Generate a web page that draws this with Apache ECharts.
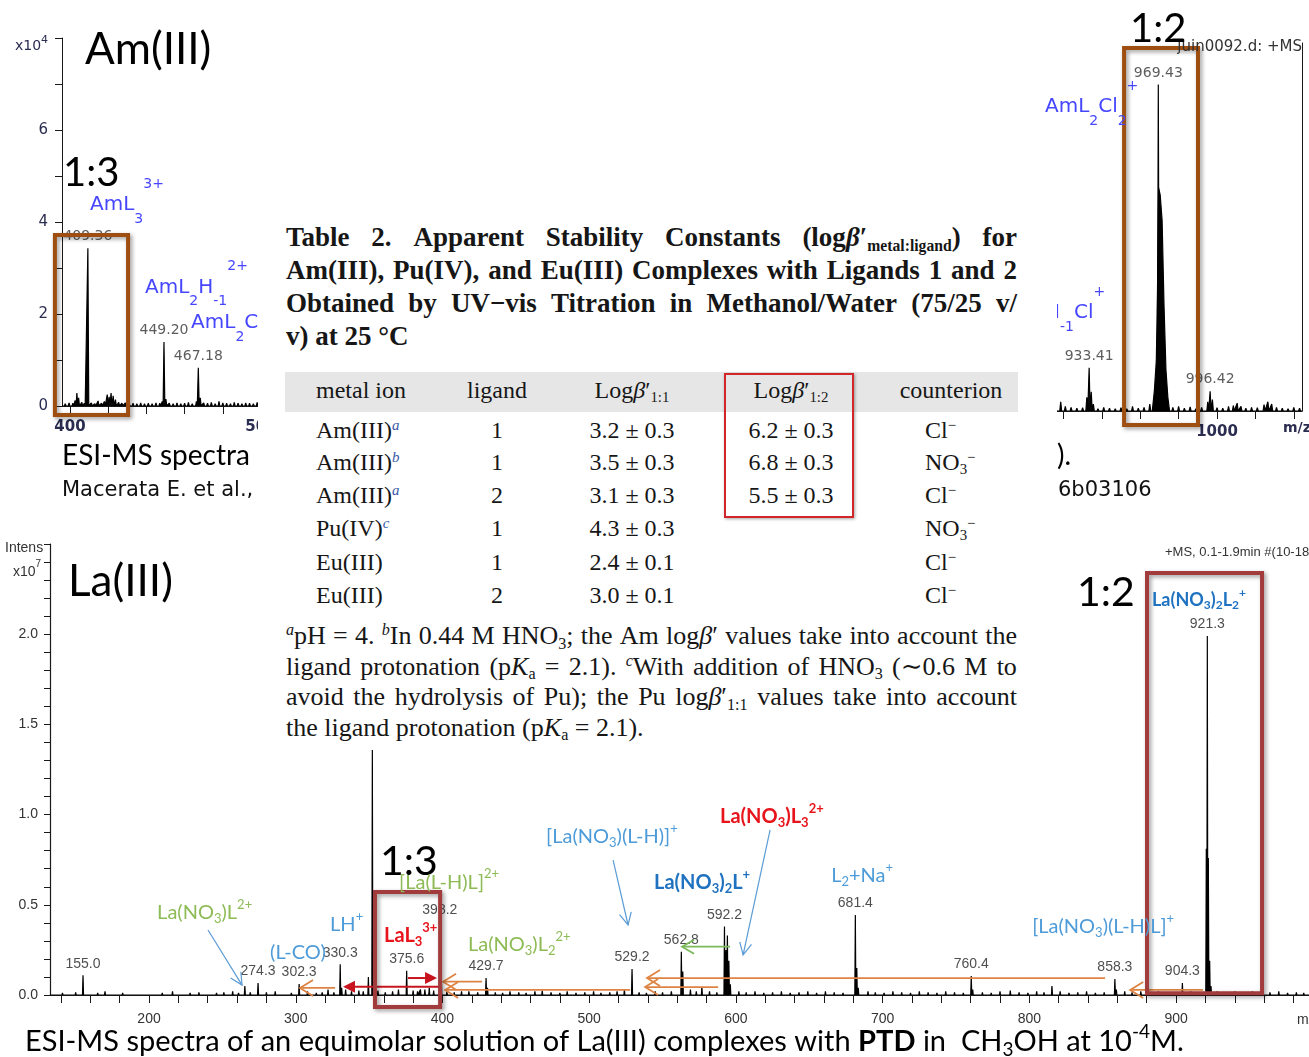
<!DOCTYPE html>
<html>
<head>
<meta charset="utf-8">
<script src="https://cdn.jsdelivr.net/npm/echarts@6/dist/echarts.min.js"></script>
<style>
html, body { margin: 0; padding: 0; background: #fff; }
#chart { position: absolute; left: 0; top: 0; width: 1309px; height: 1057px; }
#tbl { position: absolute; left: 258px; top: 205px; width: 799px; height: 543px; background: #fff; z-index: 2;
       font-family: 'Liberation Serif', 'DejaVu Serif', serif; color: #161616; }
#tbl .ttl { position: absolute; left: 28px; top: 16px; width: 731px; font-size: 27px; line-height: 33px; font-weight: bold; }
#tbl .ttl sub { font-weight: bold; font-size: 0.58em; }
#tbl .fl { display: flex; justify-content: space-between; white-space: nowrap; }
#tbl .band { position: absolute; left: 27px; top: 167px; width: 733px; height: 40px; background: #e6e6e6; }
#tbl .redbox { position: absolute; left: 466px; top: 168px; width: 126px; height: 141px; border: 2px solid #d0262c;
               box-shadow: 1px 1px 3px rgba(0,0,0,0.35); }
#tbl .c { position: absolute; font-size: 24px; line-height: 32px; white-space: nowrap; }
#tbl .foot { position: absolute; left: 28px; top: 416px; width: 731px; font-size: 26px; line-height: 30.5px; }
#tbl sub, #tbl sup { font-size: 0.62em; line-height: 0; position: relative; vertical-align: baseline; }
#tbl sup { top: -0.55em; }
#tbl sub { top: 0.3em; }
#tbl .n { color: #3a58a8; }
</style>
</head>
<body>
<div id="chart"></div>
<div id="tbl">
  <div class="ttl">
    <div class="fl">Table 2. Apparent Stability Constants (log<i>β</i>′<sub>metal:ligand</sub>) for</div>
    <div class="fl">Am(III), Pu(IV), and Eu(III) Complexes with Ligands 1 and 2</div>
    <div class="fl">Obtained by UV−vis Titration in Methanol/Water (75/25 v/</div>
    <div>v) at 25 °C</div>
  </div>
  <div class="band"></div>
  <div class="foot">
    <div class="fl"><sup><i>a</i></sup>pH = 4. <sup><i>b</i></sup>In 0.44 M HNO<sub>3</sub>; the Am log<i>β</i>′ values take into account the</div>
    <div class="fl">ligand protonation (p<i>K</i><sub>a</sub> = 2.1). <sup><i>c</i></sup>With addition of HNO<sub>3</sub> (∼0.6 M to</div>
    <div class="fl">avoid the hydrolysis of Pu); the Pu log<i>β</i>′<sub>1:1</sub> values take into account</div>
    <div>the ligand protonation (p<i>K</i><sub>a</sub> = 2.1).</div>
  </div>
  <div class="redbox"></div>
</div>
<script>
// ---------- Am(III) spectrum, low-mass window (m/z, intensity x10^4) ----------
const amLowLabeled = [[409.36, 3.43], [449.20, 1.39], [467.18, 0.83]];
const amLowMinor = [
  [397.5, 0.05], [399.5, 0.07], [401.5, 0.06], [402.7, 0.12], [403.6, 0.28], [404.5, 0.18], [406.2, 0.08],
  [407.5, 0.06], [411.2, 0.07], [413.0, 0.05], [414.7, 0.11], [416.5, 0.06], [418.0, 0.1], [419.5, 0.25],
  [420.5, 0.2], [421.5, 0.28], [422.6, 0.22], [423.8, 0.14], [425.5, 0.08], [427.2, 0.06], [429.0, 0.07],
  [431.0, 0.05], [433.0, 0.06], [435.0, 0.05], [437.0, 0.07], [439.0, 0.05], [441.0, 0.06], [443.0, 0.05],
  [445.0, 0.07], [447.0, 0.06], [448.3, 0.1], [450.2, 0.15], [452.0, 0.06], [454.0, 0.05], [456.0, 0.07],
  [458.0, 0.05], [460.0, 0.06], [462.0, 0.08], [464.0, 0.05], [466.2, 0.1], [468.2, 0.18], [470.0, 0.07],
  [472.0, 0.06], [474.0, 0.08], [476.0, 0.05], [478.0, 0.1], [480.0, 0.07], [482.0, 0.06], [484.0, 0.05],
  [486.0, 0.08], [488.0, 0.06], [490.0, 0.05], [492.0, 0.07], [494.0, 0.06], [496.0, 0.05], [498.0, 0.08],
  [500.0, 0.06], [502.0, 0.05], [504.0, 0.07], [506.0, 0.06], [508.0, 0.05], [510.0, 0.07], [512.0, 0.05],
  [514.0, 0.06], [516.0, 0.05], [518.0, 0.06]
];

// ---------- Am(III) spectrum, high-mass window ----------
const amHighLabeled = [[933.41, 0.94], [969.43, 7.1], [996.42, 0.43]];
const amHighMinor = [
  [889, 0.06], [892, 0.1], [895, 0.15], [898, 0.08], [901, 0.12], [904, 0.06], [907, 0.1], [910, 0.07],
  [913, 0.09], [916, 0.12], [918.6, 0.2], [921, 0.1], [924, 0.08], [927, 0.06], [930, 0.07], [932.2, 0.3],
  [934.5, 0.42], [935.6, 0.15], [938, 0.05], [941, 0.08], [944, 0.06], [947, 0.05], [950, 0.07], [953, 0.05],
  [956, 0.1], [959, 0.06], [962, 0.08], [965, 0.15], [977, 0.08], [980, 0.1], [983, 0.06], [986, 0.09],
  [989, 0.05], [992, 0.08], [995.2, 0.2], [997.6, 0.25], [1000, 0.07], [1003, 0.06], [1006, 0.1],
  [1008.5, 0.12], [1010.5, 0.17], [1012.5, 0.1], [1015, 0.06], [1018, 0.08], [1021, 0.07], [1024.5, 0.14],
  [1026.5, 0.2], [1028.5, 0.15], [1031, 0.08], [1034, 0.06], [1037, 0.05], [1040, 0.08], [1043, 0.06]
];
// isotope envelope under the AmL2Cl2+ line
const amHighEnvelope = [
  [966.3, 0], [967.4, 0.45], [968.4, 1.1], [969.0, 2.6], [969.6, 4.85], [970.4, 4.7], [971.4, 4.15],
  [972.4, 2.3], [973.4, 0.9], [974.4, 0.3], [975.3, 0]
];

// ---------- La(III) spectrum (m/z, intensity x10^7) ----------
const laLabeled = [
  [155.0, 0.11], [274.3, 0.067], [302.3, 0.061], [330.3, 0.17], [375.6, 0.135], [398.2, 0.406],
  [429.7, 0.094], [529.2, 0.144], [562.8, 0.24], [592.2, 0.379], [681.4, 0.443], [760.4, 0.105],
  [858.3, 0.089], [904.3, 0.067], [921.3, 1.99]
];
const laMinor = [
  [265.3, 0.05], [331.3, 0.04], [349.5, 0.1], [352.2, 1.358], [385.0, 0.03], [399.2, 0.1], [430.7, 0.04],
  [563.8, 0.13], [576.8, 0.045], [593.2, 0.25], [594.2, 0.33], [595.2, 0.19], [596.2, 0.06], [682.4, 0.15],
  [683.4, 0.04], [761.4, 0.03], [787.0, 0.025], [815.4, 0.05], [859.3, 0.03], [920.6, 0.81], [922.0, 0.76],
  [922.9, 0.19], [923.8, 0.05]
];
const laNoise = [
  [141, 0.012], [146, 0.008], [150, 0.015], [160, 0.01], [165, 0.012], [170, 0.02], [176, 0.01], [182, 0.012],
  [188, 0.01], [194, 0.008], [203, 0.01], [209, 0.012], [216, 0.02], [222, 0.01], [228, 0.012], [234, 0.015],
  [240, 0.01], [246, 0.012], [251, 0.015], [257, 0.02], [261, 0.012], [269, 0.015], [280, 0.015], [286, 0.02],
  [292, 0.01], [297, 0.012], [308, 0.02], [314, 0.012], [318, 0.015], [322, 0.03], [326, 0.015], [334, 0.03],
  [338, 0.02], [343, 0.025], [346, 0.02], [356, 0.025], [361, 0.015], [366, 0.02], [370, 0.03], [380, 0.025],
  [383, 0.02], [388, 0.03], [391, 0.04], [394, 0.025], [403, 0.02], [408, 0.015], [413, 0.02], [418, 0.02],
  [424, 0.015], [436, 0.015], [441, 0.012], [446, 0.02], [452, 0.015], [457, 0.012], [463, 0.02], [468, 0.025],
  [474, 0.015], [480, 0.012], [485, 0.02], [491, 0.012], [497, 0.015], [503, 0.02], [508, 0.012], [514, 0.015],
  [519, 0.02], [524, 0.03], [534, 0.015], [539, 0.012], [545, 0.02], [550, 0.015], [556, 0.02], [569, 0.03],
  [573, 0.02], [582, 0.02], [587, 0.015], [602, 0.02], [607, 0.015], [613, 0.02], [619, 0.012], [625, 0.015],
  [631, 0.02], [637, 0.012], [643, 0.015], [649, 0.02], [655, 0.012], [661, 0.02], [667, 0.015], [673, 0.012],
  [690, 0.02], [695, 0.015], [701, 0.012], [707, 0.02], [713, 0.015], [719, 0.012], [725, 0.02], [731, 0.015],
  [737, 0.012], [743, 0.02], [749, 0.015], [755, 0.012], [768, 0.015], [774, 0.012], [780, 0.02], [793, 0.015],
  [799, 0.012], [805, 0.02], [810, 0.015], [821, 0.02], [827, 0.012], [833, 0.015], [839, 0.02], [845, 0.012],
  [851, 0.015], [865, 0.02], [870, 0.015], [876, 0.02], [882, 0.015], [888, 0.02], [894, 0.015], [899, 0.012],
  [910, 0.02], [915, 0.015], [928, 0.02], [934, 0.015], [940, 0.02], [946, 0.015], [952, 0.02], [958, 0.012],
  [964, 0.015], [970, 0.02], [976, 0.012], [982, 0.015], [987, 0.012]
];

// ---------- axis ranges and ticks ----------
const amLowRange = [395.81, 520.42];
const amHighRange = [886.98, 1044.27];
const laRange = [132.5, 990.6];
const amLowXTicks = [400, 420, 440, 460, 480, 500, 520];
const amLowXLabels = [400, 500];
const amYTicks = [0, 1, 2, 3, 4, 5, 6, 7, 8];
const amYLabels = [0, 2, 4, 6];
const amHighXTicks = [900, 920, 940, 960, 980, 1000, 1020, 1040];
const amHighXLabels = [1000];
const laXLabels = [200, 300, 400, 500, 600, 700, 800, 900];
const laYLabels = [0, 0.5, 1.0, 1.5, 2.0];

// ---------- table ----------
const metalIons = ['Am(III)', 'Am(III)', 'Am(III)', 'Pu(IV)', 'Eu(III)', 'Eu(III)'];
const ionNotes = ['a', 'b', 'a', 'c', '', ''];
const ligands = ['1', '1', '2', '1', '1', '2'];
const logBeta11 = ['3.2 ± 0.3', '3.5 ± 0.3', '3.1 ± 0.3', '4.3 ± 0.3', '2.4 ± 0.1', '3.0 ± 0.1'];
const logBeta12 = ['6.2 ± 0.3', '6.8 ± 0.3', '5.5 ± 0.3', '', '', ''];
const counterions = ['Cl', 'NO3', 'Cl', 'NO3', 'Cl', 'Cl'];

// ---------- fonts ----------
const CAL = "Lato, 'Open Sans', sans-serif";
const NARROW = "'Liberation Sans Narrow', 'Arial Narrow', 'Liberation Sans', sans-serif";
const VERD = "'DejaVu Sans', Verdana, sans-serif";

// ---------- table layout ----------
(function buildTable() {
  const tbl = document.getElementById('tbl');
  const OX = 258, OY = 205;
  // spread the words of justified lines
  tbl.querySelectorAll('.fl').forEach(el => {
    el.innerHTML = el.innerHTML.trim().split(/\s+/).map(w => '<span>' + w + '</span>').join('');
  });
  function put(html, x, cy, center) {
    const d = document.createElement('div');
    d.className = 'c';
    d.innerHTML = html;
    d.style.top = (cy - OY - 16) + 'px';
    if (center) { d.style.left = (x - OX - 80) + 'px'; d.style.width = '160px'; d.style.textAlign = 'center'; }
    else d.style.left = (x - OX) + 'px';
    tbl.insertBefore(d, tbl.querySelector('.redbox'));
  }
  const hy = 390;
  put('metal ion', 316, hy, false);
  put('ligand', 497, hy, true);
  put('Log<i>β</i>′<sub>1:1</sub>', 632, hy, true);
  put('Log<i>β</i>′<sub>1:2</sub>', 791, hy, true);
  put('counterion', 951, hy, true);
  const rowY = [430, 462, 495, 528, 562, 595];
  const ionHtml = { Cl: 'Cl<sup>−</sup>', NO3: 'NO<sub>3</sub><sup>−</sup>' };
  metalIons.forEach((m, i) => {
    const y = rowY[i];
    put(m + (ionNotes[i] ? '<sup class="n"><i>' + ionNotes[i] + '</i></sup>' : ''), 316, y, false);
    put(ligands[i], 497, y, true);
    put(logBeta11[i], 632, y, true);
    if (logBeta12[i]) put(logBeta12[i], 791, y, true);
    put(ionHtml[counterions[i]], 925, y, false);
  });
})();

// ---------- chart ----------
function sticks(list, hw) {
  const pts = list.slice().sort((a, b) => a[0] - b[0]);
  const out = [];
  pts.forEach(([m, h]) => { out.push([m - hw, 0], [m, h], [m + hw, 0]); });
  return out;
}
function withBase(range, pts) {
  return [[range[0], 0]].concat(pts, [[range[1], 0]]);
}
function fill(a, b, s) { const r = []; for (let i = a; i <= b + 1e-9; i += s) r.push(+i.toFixed(2)); return r; }

const axisCol = '#1a1a1a';
const spectrumLine = { type: 'line', symbol: 'none', silent: true, z: 3,
  lineStyle: { color: '#000', width: 1.2 }, areaStyle: { color: '#000', opacity: 1 } };
const valueLabel = (digits, font, size, col) => ({
  type: 'scatter', symbolSize: 1, silent: true, z: 4, itemStyle: { color: 'rgba(0,0,0,0)' },
  label: { show: true, position: 'top', distance: 4, fontFamily: font, fontSize: size, color: col,
           formatter: p => p.value[0].toFixed(digits) }
});

const option = {
  animation: false,
  backgroundColor: '#ffffff',
  grid: [
    { left: 62, top: 38, width: 238, height: 368, outerBoundsMode: 'none' },
    { left: 1000, top: 43, width: 302, height: 368, outerBoundsMode: 'none' },
    { left: 50, top: 544, width: 1259, height: 451, outerBoundsMode: 'none' }
  ],
  xAxis: [
    { gridIndex: 0, type: 'value', min: amLowRange[0], max: amLowRange[1],
      axisLine: { show: true, onZero: false, lineStyle: { color: axisCol, width: 1 } },
      axisTick: { show: true, customValues: amLowXTicks, length: 8, lineStyle: { color: axisCol } },
      axisLabel: { show: true, customValues: amLowXLabels, margin: 14, fontFamily: VERD, fontSize: 15, fontWeight: 'bold', color: '#2a2c50',
                   formatter: v => String(v) },
      splitLine: { show: false } },
    { gridIndex: 1, type: 'value', min: amHighRange[0], max: amHighRange[1],
      axisLine: { show: true, onZero: false, lineStyle: { color: axisCol, width: 1 } },
      axisTick: { show: true, customValues: amHighXTicks, length: 8, lineStyle: { color: axisCol } },
      axisLabel: { show: true, customValues: amHighXLabels, margin: 14, fontFamily: VERD, fontSize: 15, fontWeight: 'bold', color: '#2a2c50',
                   formatter: v => String(v) },
      splitLine: { show: false } },
    { gridIndex: 2, type: 'value', min: laRange[0], max: laRange[1],
      axisLine: { show: true, onZero: false, lineStyle: { color: axisCol, width: 1.2 } },
      axisTick: { show: true, customValues: fill(140, 980, 20), length: 8, lineStyle: { color: axisCol } },
      axisLabel: { show: true, customValues: laXLabels, margin: 17, fontFamily: NARROW, fontSize: 14, color: '#333',
                   formatter: v => String(v) },
      splitLine: { show: false } }
  ],
  yAxis: [
    { gridIndex: 0, type: 'value', min: 0, max: 8,
      axisLine: { show: true, onZero: false, lineStyle: { color: axisCol, width: 1 } },
      axisTick: { show: true, customValues: amYTicks, length: 7, lineStyle: { color: axisCol } },
      axisLabel: { show: true, customValues: amYLabels, margin: 14, fontFamily: VERD, fontSize: 15, color: '#2a2c50' },
      splitLine: { show: false } },
    { gridIndex: 1, type: 'value', min: 0, max: 8, position: 'right',
      axisLine: { show: true, onZero: false, lineStyle: { color: axisCol, width: 1 } },
      axisTick: { show: false }, axisLabel: { show: false }, splitLine: { show: false } },
    { gridIndex: 2, type: 'value', min: 0, max: 2.5,
      axisLine: { show: true, onZero: false, lineStyle: { color: axisCol, width: 1.2 } },
      axisTick: { show: true, customValues: fill(0, 2.5, 0.1), length: 6, lineStyle: { color: axisCol } },
      axisLabel: { show: true, customValues: laYLabels, margin: 12, fontFamily: NARROW, fontSize: 14, color: '#333',
                   formatter: v => v.toFixed(1) },
      splitLine: { show: false } }
  ],
  series: [
    Object.assign({}, spectrumLine, { name: 'Am low', xAxisIndex: 0, yAxisIndex: 0,
      data: withBase(amLowRange, sticks(amLowLabeled.concat(amLowMinor), 0.45)) }),
    Object.assign(valueLabel(2, VERD, 14, '#333'), { xAxisIndex: 0, yAxisIndex: 0, data: amLowLabeled }),
    Object.assign({}, spectrumLine, { name: 'Am high', xAxisIndex: 1, yAxisIndex: 1,
      data: withBase(amHighRange, sticks(amHighLabeled.concat(amHighMinor), 0.5)) }),
    Object.assign({}, spectrumLine, { name: 'Am envelope', xAxisIndex: 1, yAxisIndex: 1, data: amHighEnvelope }),
    Object.assign(valueLabel(2, VERD, 14, '#333'), { xAxisIndex: 1, yAxisIndex: 1, data: amHighLabeled }),
    Object.assign({}, spectrumLine, { name: 'La', xAxisIndex: 2, yAxisIndex: 2,
      data: withBase(laRange, sticks(laLabeled.concat(laMinor, laNoise), 0.35)) }),
    Object.assign(valueLabel(1, NARROW, 14, '#222'), { xAxisIndex: 2, yAxisIndex: 2, data: laLabeled })
  ]
};

const chart = echarts.init(document.getElementById('chart'), null, { renderer: 'canvas', width: 1309, height: 1057 });
chart.setOption(option);

// ---------- annotations (in data coordinates of each panel) ----------
const amLowSpecies = [
  { text: 'AmL{_3}{^3+}', at: [410.5, 4.37] },
  { text: 'AmL{_2}H{_-1}{^2+}', at: [439.3, 2.57] },
  { text: 'AmL{_2}Cl{^2+}', at: [463.4, 1.80] }
];
const amHighSpecies = [
  { text: 'AmL{_2}Cl{_2}{^+}', at: [910.4, 6.61] },
  { text: 'H{_-1}Cl{^+}', at: [910.4, 2.13] }
];
const laSpecies = [
  { text: 'La(NO{_3})L{^2+}', at: [205.5, 0.455], kind: 'green' },
  { text: '(L-CO)', at: [282.5, 0.238], kind: 'blue' },
  { text: 'LH{^+}', at: [323.4, 0.388], kind: 'blue' },
  { text: '[La(L-H)L]{^2+}', at: [370.4, 0.626], kind: 'green' },
  { text: 'LaL{_3}{^3+}', at: [360.2, 0.327], kind: 'red' },
  { text: 'La(NO{_3})L{_2}{^2+}', at: [417.4, 0.277], kind: 'green' },
  { text: '[La(NO{_3})(L-H)]{^+}', at: [470.6, 0.876], kind: 'blue' },
  { text: 'La(NO{_3})L{_3}{^2+}', at: [589.2, 0.987], kind: 'red' },
  { text: 'La(NO{_3}){_2}L{^+}', at: [544.2, 0.621], kind: 'blueBold' },
  { text: 'L{_2}+Na{^+}', at: [664.9, 0.66], kind: 'blue' },
  { text: '[La(NO{_3})(L-H)L]{^+}', at: [801.9, 0.377], kind: 'blue' },
  { text: 'La(NO{_3}){_2}L{_2}{^+}', at: [883.6, 2.19], kind: 'blueBoldSmall' }
];
const laArrows = [
  { from: [326.8, 0.039], to: [302.9, 0.039], kind: 'orange' },
  { from: [427.0, 0.074], to: [400.4, 0.074], kind: 'orange' },
  { from: [527.9, 0.028], to: [401.8, 0.028], kind: 'orange' },
  { from: [851.6, 0.094], to: [539.4, 0.094], kind: 'orange' },
  { from: [587.9, 0.044], to: [538.1, 0.044], kind: 'orange' },
  { from: [918.4, 0.028], to: [868.7, 0.028], kind: 'orange' },
  { from: [398.3, 0.046], to: [332.2, 0.046], kind: 'red' },
  { from: [376.5, 0.094], to: [396.3, 0.094], kind: 'red' },
  { from: [596.0, 0.268], to: [563.3, 0.268], kind: 'green' },
  { from: [240.2, 0.36], to: [263.4, 0.055], kind: 'blue' },
  { from: [516.3, 0.748], to: [526.5, 0.388], kind: 'blue' },
  { from: [623.3, 0.915], to: [604.9, 0.222], kind: 'blue' }
];
const amLowBoxes = [[[392.1, 3.72], [430.4, -0.196]]];
const amHighBoxes = [[[951.6, 7.89], [990.1, -0.304]]];
const laBoxes = [[[354.0, 0.571], [398.4, -0.066]], [[880.2, 2.339], [958.6, 0.01]]];

const speciesStyle = {
  am: { family: VERD, size: 20, weight: 'normal', color: '#4646ff', ss: 14, sub: 14, sup: 21 },
  green: { family: CAL, size: 20, weight: 'normal', color: '#8dbb55', ss: 13, sub: 6, sup: 8 },
  blue: { family: CAL, size: 20, weight: 'normal', color: '#4d9bd8', ss: 13, sub: 6, sup: 8 },
  red: { family: CAL, size: 20, weight: 'bold', color: '#e8141c', ss: 13, sub: 6, sup: 8 },
  blueBold: { family: CAL, size: 20, weight: 'bold', color: '#1f72c0', ss: 13, sub: 6, sup: 8 },
  blueBoldSmall: { family: CAL, size: 18, weight: 'bold', color: '#1f72c0', ss: 12, sub: 5, sup: 7 }
};
const arrowStyle = {
  orange: { color: '#dd8444', width: 1.8, filled: false, L: 13, H: 8 },
  red: { color: '#c8141e', width: 2, filled: true, L: 12, H: 6 },
  green: { color: '#7cb95a', width: 1.8, filled: false, L: 12, H: 7 },
  blue: { color: '#5b9bd5', width: 1.2, filled: false, L: 12, H: 6 }
};

const mctx = document.createElement('canvas').getContext('2d');
function fontOf(size, weight, family) { return 'normal ' + (weight || 'normal') + ' ' + size + 'px ' + family; }
function chemText(x, y, markup, o) {
  const parts = [];
  const re = /\{([_^*])([^}]*)\}|([^{]+)/g;
  let m;
  while ((m = re.exec(markup))) {
    if (m[3] !== undefined) parts.push({ t: m[3], k: '' });
    else parts.push({ t: m[2], k: m[1] });
  }
  const items = parts.map(p => {
    const script = p.k === '_' || p.k === '^';
    const f = fontOf(script ? o.ss : o.size, p.k === '*' ? 'bold' : (o.weight || 'normal'), o.family);
    mctx.font = f;
    return { t: p.t, f, w: mctx.measureText(p.t).width, dy: p.k === '_' ? o.sub : (p.k === '^' ? -o.sup : 0) };
  });
  const total = items.reduce((s, it) => s + it.w, 0);
  let cx = o.align === 'right' ? x - total : x;
  return items.map(it => {
    const el = { type: 'text', x: cx, y: y + it.dy, z: 100, silent: true,
      style: { text: it.t, font: it.f, fill: o.color, align: 'left', verticalAlign: 'middle',
               textAlign: 'left', textVerticalAlign: 'middle' } };
    cx += it.w;
    return el;
  });
}
function arrowEls(a, b, s) {
  const dx = b[0] - a[0], dy = b[1] - a[1], len = Math.hypot(dx, dy), ux = dx / len, uy = dy / len;
  const bx = b[0] - ux * s.L, by = b[1] - uy * s.L;
  const p1 = [bx - uy * s.H, by + ux * s.H], p2 = [bx + uy * s.H, by - ux * s.H];
  const end = s.filled ? [bx + ux, by + uy] : b;
  const els = [{ type: 'line', z: 90, silent: true, shape: { x1: a[0], y1: a[1], x2: end[0], y2: end[1] },
                 style: { stroke: s.color, lineWidth: s.width } }];
  if (s.filled) els.push({ type: 'polygon', z: 90, silent: true, shape: { points: [p1, b, p2] }, style: { fill: s.color } });
  else els.push({ type: 'polyline', z: 90, silent: true, shape: { points: [p1, b, p2] },
                  style: { stroke: s.color, lineWidth: s.width, fill: 'none' } });
  return els;
}
function boxEl(p, q, color) {
  return { type: 'rect', z: 95, silent: true,
    shape: { x: Math.min(p[0], q[0]), y: Math.min(p[1], q[1]), width: Math.abs(q[0] - p[0]), height: Math.abs(q[1] - p[1]) },
    style: { fill: 'none', stroke: color, lineWidth: 4, shadowBlur: 4, shadowColor: 'rgba(0,0,0,0.4)', shadowOffsetX: 2, shadowOffsetY: 2 } };
}

const toPx = (ax, v) => chart.convertToPixel({ xAxisIndex: ax, yAxisIndex: ax }, v);
const els = [];

// panel-level texts
const plain = (x, y, t, family, size, color, weight, extra) =>
  chemText(x, y, t, Object.assign({ family, size, weight, color, ss: Math.round(size * 0.68), sub: size * 0.3, sup: size * 0.38 }, extra || {}));
els.push(...plain(85, 50, 'Am(III)', CAL, 44, '#000'));
els.push(...plain(63, 173, '1:3', CAL, 40, '#000'));
els.push(...plain(1302, 47, 'juin0092.d: +MS', VERD, 15, '#333', 'normal', { align: 'right' }));
els.push(...plain(1130, 29, '1:2', CAL, 40, '#000'));
els.push(...plain(15, 46, 'x10{^4}', VERD, 14, '#2a2c50', 'normal', { ss: 11, sup: 6 }));
els.push(...plain(1283, 428, 'm/z', VERD, 14, '#2a2c50', 'bold'));
els.push(...plain(62, 456, 'ESI-MS spectra of', CAL, 28, '#000'));
els.push(...plain(1057, 456, ').', CAL, 28, '#000'));
els.push(...plain(62, 491, 'Macerata E. et al.,', VERD, 21, '#111'));
els.push(...plain(1058, 491, '6b03106', VERD, 21, '#111'));
els.push(...plain(5, 548, 'Intens', NARROW, 14, '#333'));
els.push(...plain(13, 572, 'x10{^7}', NARROW, 14, '#333', 'normal', { ss: 10, sup: 8 }));
els.push(...plain(68, 582, 'La(III)', CAL, 44, '#000'));
els.push(...plain(1165, 552, '+MS, 0.1-1.9min #(10-181)', NARROW, 13, '#333'));
els.push(...plain(1077, 593, '1:2', CAL, 41, '#000'));
els.push(...plain(380, 862, '1:3', CAL, 41, '#000'));
els.push(...plain(1297, 1020, 'm/z', NARROW, 14, '#333'));
els.push(...plain(25, 1042, 'ESI-MS spectra of an equimolar solution of La(III) complexes with {*PTD} in  CH{_3}OH at 10{^-4}M.',
  CAL, 29, '#000', 'normal', { ss: 19, sub: 8, sup: 10 }));

// species labels
amLowSpecies.forEach(s => { const p = toPx(0, s.at); els.push(...chemText(p[0], p[1], s.text, speciesStyle.am)); });
amHighSpecies.forEach(s => { const p = toPx(1, s.at); els.push(...chemText(p[0], p[1], s.text, speciesStyle.am)); });
laSpecies.forEach(s => { const p = toPx(2, s.at); els.push(...chemText(p[0], p[1], s.text, speciesStyle[s.kind])); });

// arrows
laArrows.forEach(a => { els.push(...arrowEls(toPx(2, a.from), toPx(2, a.to), arrowStyle[a.kind])); });

// highlight boxes
amLowBoxes.forEach(b => els.push(boxEl(toPx(0, b[0]), toPx(0, b[1]), '#9e4e10')));
amHighBoxes.forEach(b => els.push(boxEl(toPx(1, b[0]), toPx(1, b[1]), '#9e4e10')));
laBoxes.forEach(b => els.push(boxEl(toPx(2, b[0]), toPx(2, b[1]), '#a23b3b')));

chart.setOption({ graphic: { elements: els } });
</script>
</body>
</html>
